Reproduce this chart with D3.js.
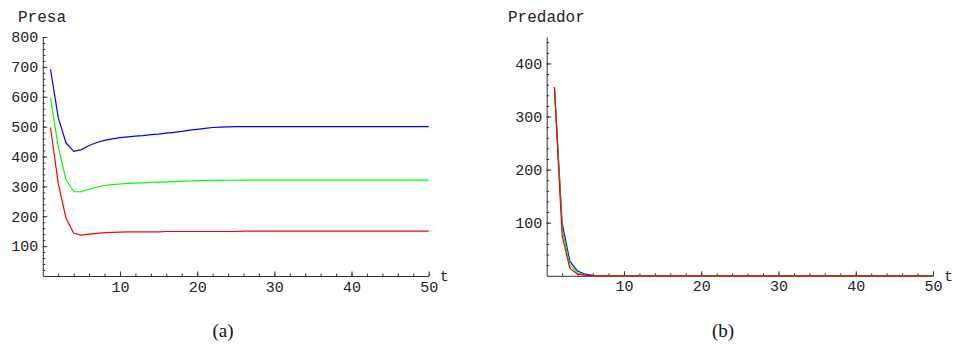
<!DOCTYPE html>
<html>
<head>
<meta charset="utf-8">
<script src="https://cdn.jsdelivr.net/npm/d3@7"></script>
<style>
  html, body { margin: 0; padding: 0; background: #fff; }
  svg { display: block; }
  .axis text { font-family: "Liberation Mono", "DejaVu Sans Mono", monospace; font-size: 15px; fill: #222; }
  .axis path, .axis line { stroke: #333; }
</style>
</head>
<body>
<svg id="chart" width="953" height="347"></svg>
<script>
// ---- Data ----
const t = d3.range(1, 51);
// Presa (prey) populations
const presaBlue = [692,530,446,417,423,437,447,454,459,463,466,468,470,473,475,478,481,484,488,491,494,497,498,499,500,500,500,500,500,500,500,500,500,500,500,500,500,500,500,500,500,500,500,500,500,500,500,500,500,500];
const presaGreen = [596,432,323,282,282,291,298,303,306,308,310,311,312,313,314,315,316,317,318,319,319.5,320,320,320.5,320.5,321,321,321,321,321,321,321,321,321,321,321,321,321,321,321,321,321,321,321,321,321,321,321,321,321];
const presaRed = [497,310,194,143,137,140,143,145,146,147,148,148,148,148,148,149,149,149,149,149,149,149,149,149,149,150,150,150,150,150,150,150,150,150,150,150,150,150,150,150,150,150,150,150,150,150,150,150,150,150];
// Predador (predator) populations
const predBlue = [355,99,27,9,3,1,0.3,0.1,0,0,0,0,0,0,0,0,0,0,0,0,0,0,0,0,0,0,0,0,0,0,0,0,0,0,0,0,0,0,0,0,0,0,0,0,0,0,0,0,0,0];
const predGreen = [355,88,20,5,1.5,0.5,0.1,0,0,0,0,0,0,0,0,0,0,0,0,0,0,0,0,0,0,0,0,0,0,0,0,0,0,0,0,0,0,0,0,0,0,0,0,0,0,0,0,0,0,0];
const predRed = [355,75,14,3,0.8,0.2,0,0,0,0,0,0,0,0,0,0,0,0,0,0,0,0,0,0,0,0,0,0,0,0,0,0,0,0,0,0,0,0,0,0,0,0,0,0,0,0,0,0,0,0];
const xTicks = [10, 20, 30, 40, 50];
const presaTicks = [100, 200, 300, 400, 500, 600, 700, 800];
const predTicks = [100, 200, 300, 400];
const colors = { blue: "#0000ff", green: "#00ff00", red: "#ff0000" };

const svg = d3.select("#chart");

function panel(cfg) {
  const g = svg.append("g");
  const x = d3.scaleLinear().domain([0, 50]).range([cfg.x0, cfg.x1]);
  const y = d3.scaleLinear().domain([0, cfg.ymax]).range([cfg.y0, cfg.y1]);

  // minor ticks
  g.append("g").attr("class", "axis").attr("transform", `translate(0,${cfg.y0})`)
    .call(d3.axisBottom(x).tickValues(d3.range(2, 51, 2)).tickSizeInner(-2.5).tickSizeOuter(0).tickFormat(""))
    .call(s => s.select(".domain").remove());
  g.append("g").attr("class", "axis").attr("transform", `translate(${cfg.x0},0)`)
    .call(d3.axisLeft(y).tickValues(d3.range(20, cfg.ymax + 1, 20)).tickSizeInner(-2.5).tickSizeOuter(0).tickFormat(""))
    .call(s => s.select(".domain").remove());

  // major axes
  g.append("g").attr("class", "axis").attr("transform", `translate(0,${cfg.y0})`)
    .call(d3.axisBottom(x).tickValues(xTicks).tickSizeInner(-4.5).tickSizeOuter(0).tickPadding(5).tickFormat(d3.format("d")));
  g.append("g").attr("class", "axis").attr("transform", `translate(${cfg.x0},0)`)
    .call(d3.axisLeft(y).tickValues(cfg.yTicks).tickSizeInner(-4.5).tickSizeOuter(0).tickPadding(4.5).tickFormat(d3.format("d")));

  const line = d3.line().x((d, i) => x(t[i])).y(d => y(d));
  cfg.series.forEach(s => {
    g.append("path").datum(s.values)
      .attr("fill", "none").attr("stroke", s.color).attr("stroke-width", 1.2)
      .attr("stroke-linejoin", "round").attr("d", line);
  });

  g.append("text").attr("x", cfg.titleX).attr("y", 22)
    .attr("font-family", "Liberation Mono, monospace").attr("font-size", 16).attr("fill", "#222")
    .text(cfg.title);
  g.append("text").attr("x", cfg.x1 + 11).attr("y", cfg.y0 + 5)
    .attr("font-family", "Liberation Mono, monospace").attr("font-size", 15).attr("fill", "#222")
    .text("t");
  g.append("text").attr("x", cfg.capX).attr("y", 337).attr("text-anchor", "middle")
    .attr("font-family", "Liberation Serif, DejaVu Serif, serif").attr("font-size", 19).attr("fill", "#111")
    .text(cfg.caption);
}

panel({
  x0: 42.8, x1: 428.7, y0: 276, y1: 37, ymax: 800, yTicks: presaTicks,
  title: "Presa", titleX: 18, caption: "(a)", capX: 223,
  series: [
    { values: presaBlue, color: colors.blue },
    { values: presaGreen, color: colors.green },
    { values: presaRed, color: colors.red }
  ]
});
panel({
  x0: 546.7, x1: 933, y0: 275.8, y1: 36.9, ymax: 450, yTicks: predTicks,
  title: "Predador", titleX: 508, caption: "(b)", capX: 723,
  series: [
    { values: predBlue, color: colors.blue },
    { values: predGreen, color: colors.green },
    { values: predRed, color: colors.red }
  ]
});
</script>
</body>
</html>
